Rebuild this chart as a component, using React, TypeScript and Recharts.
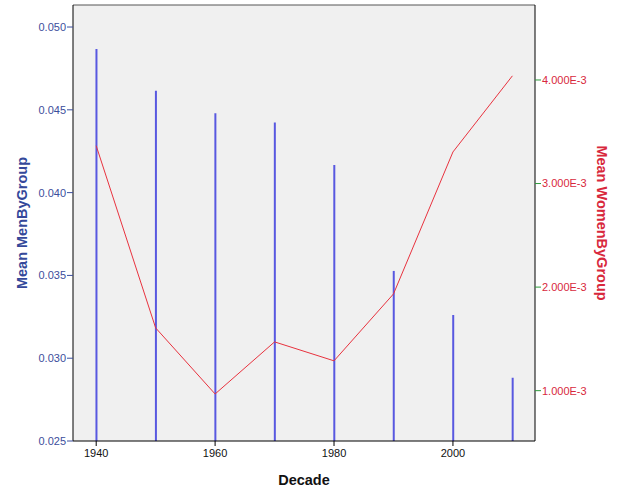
import React from 'react'
import { ComposedChart, Bar, Line, XAxis, YAxis, CartesianGrid, ReferenceLine } from 'recharts'

const decades = [1940, 1950, 1960, 1970, 1980, 1990, 2000, 2010]
const menByGroup = [0.04867, 0.04615, 0.04479, 0.04424, 0.04167, 0.03527, 0.03261, 0.02882]
const womenByGroup = [0.003365, 0.001606, 0.000968, 0.001471, 0.001288, 0.001934, 0.003305, 0.00404]

const decadeTicks = [1940, 1960, 1980, 2000]
const menTicks = [0.025, 0.03, 0.035, 0.04, 0.045, 0.05]
const womenTicks = [0.001, 0.002, 0.003, 0.004]

const font = '"Liberation Sans", Arial, sans-serif'

export default function App() {
    const data = decades.map((decade, i) => ({
        decade,
        men: menByGroup[i],
        women: womenByGroup[i]
    }))

    return (
        <div style={{ position: 'absolute', left: 0, top: 0, background: '#fff', fontFamily: font }}>
            <ComposedChart width={626} height={501} data={data} margin={{ top: 5, right: 0, left: 0, bottom: 0 }}>
                <CartesianGrid fill="#f0f0f0" horizontal={false} vertical={false} yAxisId="left" />
                <XAxis
                    dataKey="decade"
                    type="number"
                    domain={[1936.1, 2013.8]}
                    ticks={decadeTicks}
                    height={60}
                    stroke="#000"
                    tickSize={5}
                    tickMargin={3}
                    tick={{ fontSize: 11, fontFamily: font, fill: '#111' }}
                    label={{ value: 'Decade', position: 'insideBottom', offset: 16, style: { fontSize: 14.5, fontWeight: 'bold', fontFamily: font, fill: '#111' } }}
                />
                <YAxis
                    yAxisId="left"
                    domain={[0.025, 0.05133]}
                    ticks={menTicks}
                    width={73}
                    stroke="#000"
                    tickSize={6}
                    tickMargin={1}
                    tickLine={{ stroke: '#3c4e9c' }}
                    tickFormatter={(v: number) => v.toFixed(3)}
                    tick={{ fontSize: 11, fontFamily: font, fill: '#3c4e9c' }}
                    label={{ value: 'Mean MenByGroup', angle: -90, position: 'insideLeft', offset: 22, style: { textAnchor: 'middle', fontSize: 14.5, fontWeight: 'bold', fontFamily: font, fill: '#34489a' } }}
                />
                <YAxis
                    yAxisId="right"
                    orientation="right"
                    domain={[0.000514, 0.004724]}
                    ticks={womenTicks}
                    width={91}
                    stroke="#000"
                    tickSize={6}
                    tickMargin={1}
                    tickLine={{ stroke: '#2e9a3c' }}
                    tickFormatter={(v: number) => `${(v * 1000).toFixed(3)}E-3`}
                    tick={{ fontSize: 11, fontFamily: font, fill: '#d8283c' }}
                    label={{ value: 'Mean WomenByGroup', angle: 90, position: 'insideRight', offset: 24, style: { textAnchor: 'middle', fontSize: 14.5, fontWeight: 'bold', fontFamily: font, fill: '#d8283c' } }}
                />
                <ReferenceLine yAxisId="left" y={0.05133} stroke="#555" strokeWidth={1} />
                <Bar yAxisId="left" dataKey="men" fill="#5858e0" barSize={2} isAnimationActive={false} />
                <Line yAxisId="right" dataKey="women" type="linear" stroke="#e8323e" strokeWidth={1} dot={false} isAnimationActive={false} />
            </ComposedChart>
        </div>
    )
}
